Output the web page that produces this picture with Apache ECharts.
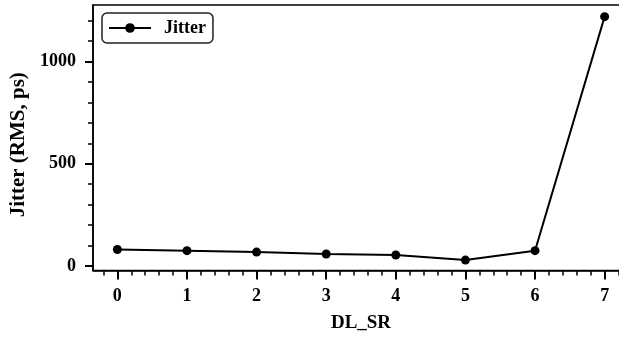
<!DOCTYPE html>
<html>
<head>
<meta charset="utf-8">
<script src="https://cdn.jsdelivr.net/npm/echarts@6/dist/echarts.min.js"></script>
<style>html,body{margin:0;padding:0;background:#fff;overflow:hidden;}#c{width:619px;height:338px;}</style>
</head>
<body>
<div id="c"></div>
<script>
const categories = [0, 1, 2, 3, 4, 5, 6, 7];
const jitter = [81, 75, 68, 59, 54, 29, 75, 1220];
const xTicks = [0, 1, 2, 3, 4, 5, 6, 7];
const xMinorTicks = [-0.2, 0.2, 0.4, 0.6, 0.8, 1.2, 1.4, 1.6, 1.8, 2.2, 2.4, 2.6, 2.8, 3.2, 3.4, 3.6, 3.8, 4.2, 4.4, 4.6, 4.8, 5.2, 5.4, 5.6, 5.8, 6.2, 6.4, 6.6, 6.8, 7.2];
const yTicks = [0, 500, 1000];
const yMinorTicks = [100, 200, 300, 400, 600, 700, 800, 900, 1100, 1200];

const FONT = '"Liberation Serif", "Times New Roman", serif';
const chart = echarts.init(document.getElementById('c'));
const xRange = { min: -0.35, max: 7.35 };
const yRange = { min: -22, max: 1277 };
const labelStyle = { fontFamily: FONT, fontWeight: 'bold', fontSize: 18, color: '#000' };

chart.setOption({
  animation: false,
  backgroundColor: '#fff',
  grid: {
    left: 93, width: 536, top: 5, height: 265.5,
    outerBoundsMode: 'none', containLabel: false,
    show: true, borderColor: '#000', borderWidth: 1.5, backgroundColor: 'transparent'
  },
  legend: {
    left: 102, top: 13,
    padding: [6, 7, 6, 6],
    borderColor: '#222', borderWidth: 1.5, borderRadius: 5,
    itemWidth: 42, itemHeight: 12,
    textStyle: { fontFamily: FONT, fontWeight: 'bold', fontSize: 18, color: '#000', padding: [0, 0, 0, 8] },
    data: ['Jitter']
  },
  xAxis: [{
    type: 'value', min: xRange.min, max: xRange.max,
    name: 'DL_SR', nameLocation: 'middle', nameGap: 43,
    nameTextStyle: { ...labelStyle, fontSize: 19 },
    axisLine: { show: true, onZero: false, lineStyle: { color: '#000', width: 1.5 } },
    axisTick: { show: true, customValues: xTicks, length: 9, lineStyle: { color: '#000', width: 2 } },
    axisLabel: { customValues: xTicks, margin: 17, formatter: v => String(v), ...labelStyle },
    splitLine: { show: false }
  }, {
    type: 'value', min: xRange.min, max: xRange.max, position: 'bottom',
    axisLine: { show: false, onZero: false },
    axisTick: { show: true, customValues: xMinorTicks, length: 5, lineStyle: { color: '#000', width: 1.5 } },
    axisLabel: { show: false },
    splitLine: { show: false }
  }],
  yAxis: [{
    type: 'value', min: yRange.min, max: yRange.max,
    name: 'Jitter (RMS, ps)', nameLocation: 'middle', nameGap: 62, nameRotate: 90,
    nameTextStyle: { ...labelStyle, fontSize: 21, padding: [0, 14, 0, 0] },
    axisLine: { show: true, onZero: false, lineStyle: { color: '#000', width: 1.5 } },
    axisTick: { show: true, customValues: yTicks, length: 8, lineStyle: { color: '#000', width: 2 } },
    axisLabel: { customValues: yTicks, margin: 17, formatter: v => String(v), ...labelStyle },
    splitLine: { show: false }
  }, {
    type: 'value', min: yRange.min, max: yRange.max, position: 'left',
    axisLine: { show: false, onZero: false },
    axisTick: { show: true, customValues: yMinorTicks, length: 5, lineStyle: { color: '#000', width: 1.5 } },
    axisLabel: { show: false },
    splitLine: { show: false }
  }],
  series: [{
    name: 'Jitter', type: 'line',
    data: categories.map((c, i) => [c, jitter[i]]),
    symbol: 'circle', symbolSize: 9,
    itemStyle: { color: '#000' },
    lineStyle: { color: '#000', width: 2 }
  }]
});
</script>
</body>
</html>
